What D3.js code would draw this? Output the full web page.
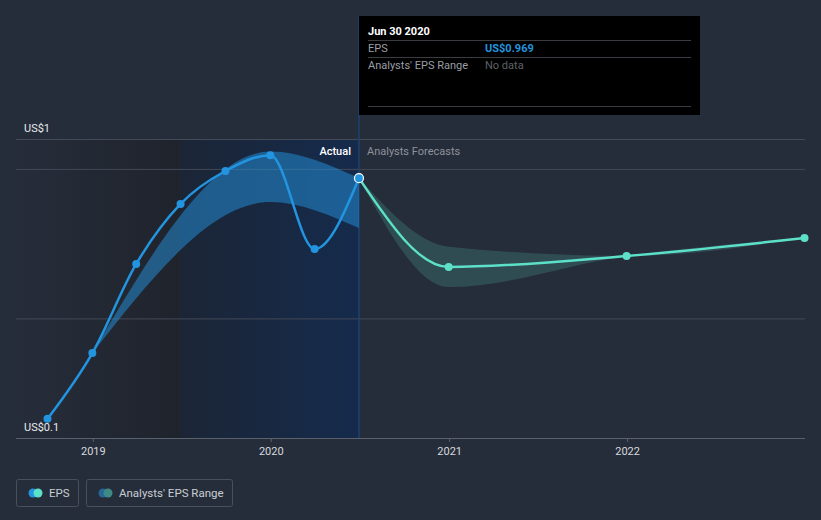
<!DOCTYPE html>
<html>
<head>
<meta charset="utf-8">
<script src="https://cdn.jsdelivr.net/npm/d3@7"></script>
<style>
  html, body { margin: 0; padding: 0; background: #262d3a; }
  svg { display: block; font-family: Roboto, "Noto Sans", sans-serif; }
</style>
</head>
<body>
<div id="chart"></div>
<script>
// EPS actuals
var epsDates = ["2018-09-30", "2018-12-31", "2019-03-31", "2019-06-30", "2019-09-30", "2019-12-31", "2020-03-31", "2020-06-30"];
var epsValues = [0.164, 0.384, 0.682, 0.883, 0.993, 1.046, 0.732, 0.969];

// EPS forecasts
var fcDates = ["2020-06-30", "2020-12-31", "2021-12-31", "2022-12-31"];
var fcValues = [0.969, 0.672, 0.709, 0.769];

// analysts range, past
var pastRangeDates = ["2018-12-31", "2019-12-31", "2020-06-30"];
var pastRangeLow = [0.384, 0.889, 0.802];
var pastRangeHigh = [0.384, 1.058, 0.969];

// analysts range, forecast
var fcRangeDates = ["2020-06-30", "2020-12-31", "2021-12-31", "2022-12-31"];
var fcRangeLow = [0.969, 0.605, 0.709, 0.769];
var fcRangeHigh = [0.969, 0.740, 0.709, 0.769];

var xTickYears = ["2019", "2020", "2021", "2022"];
var yTickLabels = ["US$1", "US$0.1"];
var gridValues = [0.5, 1, 1.1];
var pastStart = "2019-06-30";
var nowDate = "2020-06-30";

var width = 821;
var height = 520;
var plotLeft = 16, plotRight = 805, plotTop = 139, plotBottom = 438;

var blue = "#2394df";
var teal = "#5ce0c8";

var svg = d3.select("#chart")
    .append("svg")
    .attr("width", width)
    .attr("height", height);

var parse = d3.utcParse("%Y-%m-%d");

var xScale = d3.scaleUtc()
    .domain([parse("2018-09-30"), parse("2022-12-31")])
    .range([47.5, 804.5]);

var yScale = d3.scaleLinear()
    .domain([0.1, 1.1])
    .range([plotBottom, plotTop]);

var defs = svg.append("defs");
var g1 = defs.append("linearGradient").attr("id", "pastGrad");
g1.append("stop").attr("offset", "0%").attr("stop-color", "#262d3a");
g1.append("stop").attr("offset", "100%").attr("stop-color", "#1f232c");
var g2 = defs.append("linearGradient").attr("id", "actualGrad");
g2.append("stop").attr("offset", "0%").attr("stop-color", "#1b2536");
g2.append("stop").attr("offset", "100%").attr("stop-color", "#152b4c");

// shaded regions
svg.append("rect")
    .attr("x", plotLeft)
    .attr("y", plotTop)
    .attr("width", xScale(parse(pastStart)) - plotLeft)
    .attr("height", plotBottom - plotTop)
    .attr("fill", "url(#pastGrad)");

svg.append("rect")
    .attr("x", xScale(parse(pastStart)))
    .attr("y", plotTop)
    .attr("width", xScale(parse(nowDate)) - xScale(parse(pastStart)))
    .attr("height", plotBottom - plotTop)
    .attr("fill", "url(#actualGrad)");

// grid lines
svg.selectAll(".grid")
    .data(gridValues)
    .enter()
    .append("line")
    .attr("x1", plotLeft)
    .attr("x2", plotRight)
    .attr("y1", function(d) { return yScale(d) + 0.5; })
    .attr("y2", function(d) { return yScale(d) + 0.5; })
    .attr("stroke", "#434956")
    .attr("stroke-width", 1);

// now line
svg.append("line")
    .attr("x1", xScale(parse(nowDate)))
    .attr("x2", xScale(parse(nowDate)))
    .attr("y1", 16)
    .attr("y2", plotBottom)
    .attr("stroke", "#1e426e")
    .attr("stroke-width", 1.5);

// range bands
function bandData(dates, low, high) {
    return dates.map(function(d, i) { return { date: parse(d), low: low[i], high: high[i] }; });
}

var area = d3.area()
    .x(function(d) { return xScale(d.date); })
    .y0(function(d) { return yScale(d.low); })
    .y1(function(d) { return yScale(d.high); })
    .curve(d3.curveMonotoneX);

svg.append("path")
    .datum(bandData(pastRangeDates, pastRangeLow, pastRangeHigh))
    .attr("d", area)
    .attr("fill", blue)
    .attr("opacity", 0.5);

svg.append("path")
    .datum(bandData(fcRangeDates, fcRangeLow, fcRangeHigh))
    .attr("d", area)
    .attr("fill", teal)
    .attr("opacity", 0.18);

// lines
function seriesData(dates, values) {
    return dates.map(function(d, i) { return { date: parse(d), value: values[i] }; });
}
var eps = seriesData(epsDates, epsValues);
var fc = seriesData(fcDates, fcValues);

var line = d3.line()
    .x(function(d) { return xScale(d.date); })
    .y(function(d) { return yScale(d.value); })
    .curve(d3.curveMonotoneX);

svg.append("path")
    .datum(fc)
    .attr("d", line)
    .attr("fill", "none")
    .attr("stroke", teal)
    .attr("stroke-width", 2.5);

svg.append("path")
    .datum(eps)
    .attr("d", line)
    .attr("fill", "none")
    .attr("stroke", blue)
    .attr("stroke-width", 2.5);

svg.selectAll(".fcdot")
    .data(fc.slice(1))
    .enter()
    .append("circle")
    .attr("cx", function(d) { return xScale(d.date); })
    .attr("cy", function(d) { return yScale(d.value); })
    .attr("r", 4)
    .attr("fill", teal);

svg.selectAll(".epsdot")
    .data(eps)
    .enter()
    .append("circle")
    .attr("cx", function(d) { return xScale(d.date); })
    .attr("cy", function(d) { return yScale(d.value); })
    .attr("r", function(d, i) { return i == eps.length - 1 ? 4.5 : 4; })
    .attr("fill", blue)
    .attr("stroke", function(d, i) { return i == eps.length - 1 ? "#ffffff" : "none"; })
    .attr("stroke-width", 1.2);

// x axis
svg.append("line")
    .attr("x1", plotLeft)
    .attr("x2", plotRight)
    .attr("y1", plotBottom + 0.5)
    .attr("y2", plotBottom + 0.5)
    .attr("stroke", "#5b616c")
    .attr("stroke-width", 1);

var xAxis = svg.append("g")
    .attr("transform", "translate(0," + plotBottom + ")")
    .call(d3.axisBottom(xScale)
        .tickValues(xTickYears.map(function(y) { return parse(y + "-01-01"); }))
        .tickFormat(d3.utcFormat("%Y"))
        .tickSize(4)
        .tickPadding(5));
xAxis.select(".domain").remove();
xAxis.selectAll(".tick line").attr("stroke", "#5b616c");
xAxis.selectAll(".tick text")
    .attr("fill", "#d6d9de")
    .attr("font-size", 11)
    .attr("font-family", "Roboto, sans-serif");

// y labels
svg.append("text")
    .attr("x", 24)
    .attr("y", plotTop - 7)
    .attr("fill", "#e8eaed")
    .attr("font-size", 11)
    .text(yTickLabels[0]);

svg.append("text")
    .attr("x", 24)
    .attr("y", plotBottom - 7)
    .attr("fill", "#e8eaed")
    .attr("font-size", 11)
    .text(yTickLabels[1]);

// actual / forecast labels
svg.append("text")
    .attr("x", xScale(parse(nowDate)) - 8)
    .attr("y", 155)
    .attr("text-anchor", "end")
    .attr("fill", "#ffffff")
    .attr("font-size", 11)
    .attr("font-weight", 500)
    .text("Actual");

svg.append("text")
    .attr("x", xScale(parse(nowDate)) + 8)
    .attr("y", 155)
    .attr("fill", "#8d929b")
    .attr("font-size", 11)
    .text("Analysts Forecasts");

// tooltip
var tip = svg.append("g").attr("transform", "translate(359,16)");
tip.append("rect")
    .attr("width", 341)
    .attr("height", 99)
    .attr("fill", "#000000");
tip.append("text")
    .attr("x", 9).attr("y", 19)
    .attr("fill", "#ffffff")
    .attr("font-size", 11)
    .attr("font-weight", "bold")
    .text("Jun 30 2020");
[24.5, 41.5, 90.5].forEach(function(y) {
    tip.append("line")
        .attr("x1", 9).attr("x2", 332)
        .attr("y1", y).attr("y2", y)
        .attr("stroke", "#3a3d42");
});
tip.append("text")
    .attr("x", 9).attr("y", 36)
    .attr("fill", "#9a9ea5")
    .attr("font-size", 11)
    .text("EPS");
tip.append("text")
    .attr("x", 126).attr("y", 36)
    .attr("fill", blue)
    .attr("font-size", 11)
    .attr("font-weight", "bold")
    .text("US$" + d3.format(".3f")(epsValues[epsValues.length - 1]));
tip.append("text")
    .attr("x", 9).attr("y", 53)
    .attr("fill", "#9a9ea5")
    .attr("font-size", 11)
    .text("Analysts' EPS Range");
tip.append("text")
    .attr("x", 126).attr("y", 53)
    .attr("fill", "#5e6268")
    .attr("font-size", 11)
    .text("No data");

// legend
var legendItems = [
    { label: "EPS", x: 16, w: 62, c1: blue, c2: teal },
    { label: "Analysts' EPS Range", x: 86, w: 146, c1: "#26679a", c2: "#3f8a84" }
];
var leg = svg.selectAll(".legend")
    .data(legendItems)
    .enter()
    .append("g")
    .attr("transform", function(d) { return "translate(" + d.x + ",479)"; });
leg.append("rect")
    .attr("x", 0.5).attr("y", 0.5)
    .attr("width", function(d) { return d.w; })
    .attr("height", 27)
    .attr("rx", 2)
    .attr("fill", "none")
    .attr("stroke", "#4a505b");
leg.append("circle")
    .attr("cx", 17).attr("cy", 14).attr("r", 4.5)
    .attr("fill", function(d) { return d.c1; });
leg.append("circle")
    .attr("cx", 22).attr("cy", 14).attr("r", 4.5)
    .attr("fill", function(d) { return d.c2; });
leg.append("text")
    .attr("x", 33).attr("y", 18)
    .attr("fill", "#c9cdd3")
    .attr("font-size", 11.5)
    .text(function(d) { return d.label; });
</script>
</body>
</html>
